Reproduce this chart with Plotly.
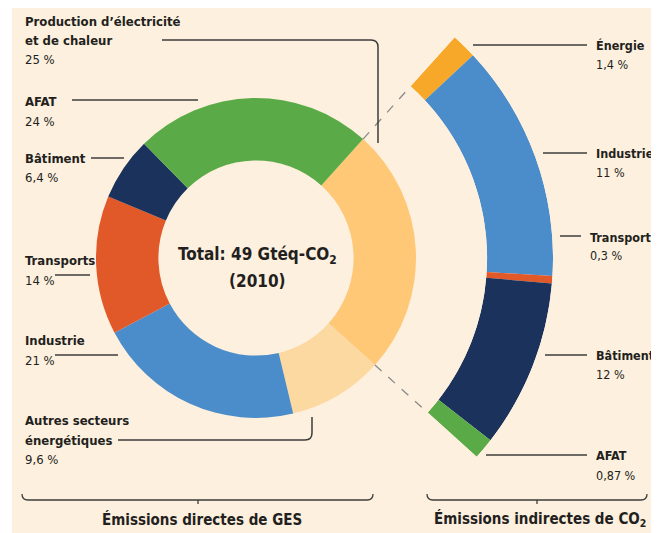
import math
import plotly.graph_objects as go

# the page body keeps an 8 px margin, so the figure is drawn 8 px smaller
OFF = 8
W, H = 659 - OFF, 533 - OFF

# Émissions directes (anneau), dans le sens horaire à partir de la tranche électricité
direct_labels = ["Production d’électricité|et de chaleur", "Autres secteurs|énergétiques",
                 "Industrie", "Transports", "Bâtiment", "AFAT"]
direct_values = [25, 9.6, 21, 14, 6.4, 24]
direct_text = ["25 %", "9,6 %", "21 %", "14 %", "6,4 %", "24 %"]
direct_colors = ["#fec877", "#fdd9a2", "#4b8dcb", "#e15829", "#1b325d", "#5aab47"]

# Émissions indirectes de CO2 (arc), de haut en bas
indirect_labels = ["Énergie", "Industrie", "Transports", "Bâtiment", "AFAT"]
indirect_text = ["1,4 %", "11 %", "0,3 %", "12 %", "0,87 %"]
# part de l'arc occupée par chaque secteur (l'original n'est pas à l'échelle des %)
indirect_share = [5.5, 51.7, 1.6, 36.6, 4.6]
indirect_colors = ["#f7a829", "#4b8dcb", "#e15829", "#1b325d", "#5aab47"]

FONT = "Liberation Sans Narrow, Arial Narrow, DejaVu Sans Condensed, sans-serif"
INK = "#231f20"
LINE = "#3c3c3c"

# geometry in window pixels
CX, CY = 256, 258
R_DONUT, HOLE = 160, 0.61
R_ARC, ARC_HOLE = 297, 0.778
START = 42  # clockwise from 12 o'clock


def px(x):
    return (x - OFF) / W


def py(y):
    return 1 - (y - OFF) / H


fig = go.Figure()

fig.add_trace(go.Pie(
    labels=[l.replace("|", " ") for l in direct_labels], values=direct_values,
    marker=dict(colors=direct_colors, line=dict(width=0)),
    hole=HOLE, sort=False, direction="clockwise", rotation=START,
    textinfo="none", showlegend=False,
    domain=dict(x=[px(CX - R_DONUT), px(CX + R_DONUT)], y=[py(CY + R_DONUT), py(CY - R_DONUT)]),
))

# the arc spreads the electricity slice over the indirect emissions
span = direct_values[0] / sum(direct_values) * 360
tot = sum(indirect_share)
widths = [s / tot * span for s in indirect_share]
thetas, acc = [], START
for w in widths:
    thetas.append(acc + w / 2)
    acc += w

fig.add_trace(go.Barpolar(
    r=[1] * len(widths), theta=thetas, width=widths,
    marker=dict(color=indirect_colors, line=dict(width=0)),
    text=indirect_labels, hoverinfo="text", showlegend=False,
))

a0, a1 = 90 - (START + span), 90 - START
top = CY - R_ARC * math.sin(math.radians(a1))
bot = CY - R_ARC * math.sin(math.radians(a0))
fig.update_layout(polar=dict(
    domain=dict(x=[px(CX), px(CX + R_ARC)], y=[py(bot), py(top)]),
    sector=[a0, a1], hole=ARC_HOLE, bgcolor="rgba(0,0,0,0)",
    radialaxis=dict(visible=False, range=[0, 1]),
    angularaxis=dict(visible=False, rotation=90, direction="clockwise"),
))

shapes = [dict(type="rect", xref="paper", yref="paper", x0=px(12), x1=1, y0=0, y1=1,
               fillcolor="#fdf0de", line=dict(width=0), layer="below")]


def seg(x0, y0, x1, y1, color=LINE, width=1.5, dash=None):
    shapes.append(dict(type="line", xref="paper", yref="paper",
                       x0=px(x0), y0=py(y0), x1=px(x1), y1=py(y1),
                       line=dict(color=color, width=width, dash=dash)))


def path(pts, width=1.5):
    d = ""
    for cmd, *c in pts:
        d += cmd + " " + " ".join(f"{px(c[i]):.5f},{py(c[i + 1]):.5f}" for i in range(0, len(c), 2)) + " "
    shapes.append(dict(type="path", xref="paper", yref="paper", path=d.strip(),
                       line=dict(color=LINE, width=width)))


# dashed connectors along the edges of the electricity slice
for ang in (START, START + span):
    s, c = math.sin(math.radians(ang)), math.cos(math.radians(ang))
    seg(CX + R_DONUT * s, CY - R_DONUT * c, CX + R_ARC * ARC_HOLE * s, CY - R_ARC * ARC_HOLE * c,
        color="#8a8a8a", width=1.3, dash="dash")

# leader lines
path([("M", 162, 40), ("L", 371, 40), ("Q", 378, 40, 378, 47), ("L", 378, 143)])
seg(72, 100, 198, 100)
seg(91, 158, 124, 158)
seg(55, 275, 90, 275)
seg(55, 355, 118, 355)
path([("M", 118, 440), ("L", 305, 440), ("Q", 312, 440, 312, 433), ("L", 312, 417)])
seg(473, 45, 587, 45)
seg(543, 153, 587, 153)
seg(560, 236, 581, 236)
seg(545, 355, 587, 355)
seg(486, 455, 587, 455)

# brackets
for xa, xm, xb in ((22, 198, 373), (427, 537, 647)):
    path([("M", xa, 494), ("Q", xa, 500, xa + 6, 500), ("L", xb - 6, 500), ("Q", xb, 500, xb, 494)], width=1.3)
    seg(xm, 500, xm, 504, width=1.3)

ann = []


def txt(x, y, s, size=13, bold=False, anchor="left"):
    ann.append(dict(x=px(x), y=py(y), xref="paper", yref="paper", text=f"<b>{s}</b>" if bold else s,
                    showarrow=False, xanchor=anchor, yanchor="middle",
                    font=dict(family=FONT, size=size, color=INK)))


def block(x, ys, name, value, size=13):
    lines = name.split("|")
    for yy, ln in zip(ys, lines):
        txt(x, yy, ln, size=size, bold=True)
    txt(x, ys[len(lines)], value, size=size)


left_y = {0: [21, 40, 59], 1: [420, 440, 459], 2: [341, 360], 3: [261, 280], 4: [158, 177], 5: [102, 121]}
for i, lab in enumerate(direct_labels):
    block(23, left_y[i], lab, direct_text[i])

right_y = [[45, 64], [153, 172], [237, 256], [355, 374], [455, 475]]
right_x = [594, 594, 588, 594, 594]  # "Transports" nudged left so it stays inside the page
for i, lab in enumerate(indirect_labels):
    block(right_x[i], right_y[i], lab, indirect_text[i], size=12.5)

txt(257, 256, "Total: 49 Gtéq-CO<sub>2</sub>", size=17, bold=True, anchor="center")
txt(257, 281, "(2010)", size=17, bold=True, anchor="center")
txt(202, 519, "Émissions directes de GES", size=15, bold=True, anchor="center")
txt(540, 519, "Émissions indirectes de CO<sub>2</sub>", size=15, bold=True, anchor="center")

fig.update_layout(width=W, height=H, margin=dict(l=0, r=0, t=0, b=0),
                  paper_bgcolor="white", plot_bgcolor="rgba(0,0,0,0)",
                  shapes=shapes, annotations=ann, showlegend=False)

fig.write_html("out.html")
